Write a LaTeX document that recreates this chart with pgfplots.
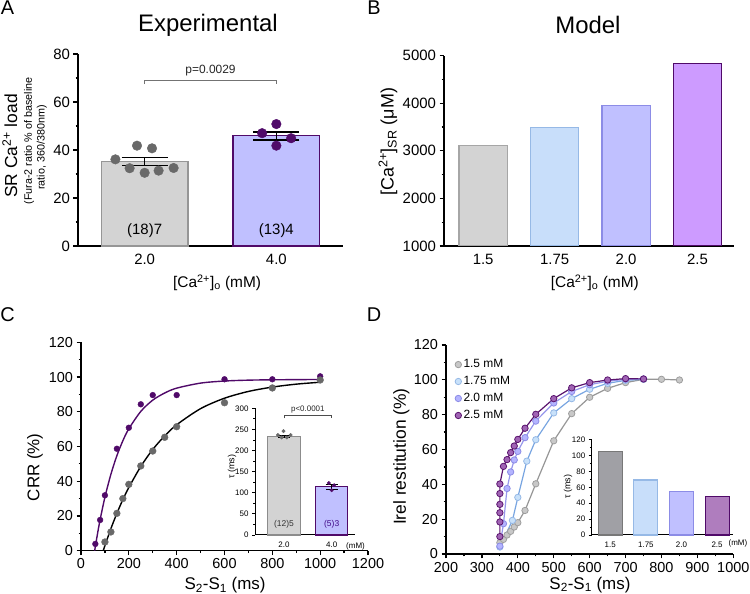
\documentclass[border=0pt]{standalone}
\usepackage{pgfplots}
\pgfplotsset{compat=1.18}
\usepackage{fontspec}
\setmainfont{Liberation Sans}

\definecolor{gfill}{RGB}{211,211,211}
\definecolor{gedge}{RGB}{150,150,150}
\definecolor{gdot}{RGB}{105,105,105}
\definecolor{lavfill}{RGB}{192,192,255}
\definecolor{lavedge}{RGB}{140,140,230}
\definecolor{purp}{RGB}{80,10,105}
\definecolor{bluefill}{RGB}{200,222,250}
\definecolor{blueedge}{RGB}{150,185,230}
\definecolor{violfill}{RGB}{205,155,255}
\definecolor{dgfill}{RGB}{160,160,165}
\definecolor{dgedge}{RGB}{120,120,120}
\definecolor{mauvefill}{RGB}{175,125,190}
% D curves
\definecolor{aline}{RGB}{150,150,150}
\definecolor{afill}{RGB}{200,200,200}
\definecolor{bline}{RGB}{120,165,225}
\definecolor{bfill}{RGB}{200,225,250}
\definecolor{cline}{RGB}{150,150,235}
\definecolor{cfill}{RGB}{180,180,255}
\definecolor{dline}{RGB}{90,20,110}
\definecolor{dfill}{RGB}{160,100,180}

\pgfplotsset{
  panel/.style={
    scale only axis, anchor=south west,
    axis x line*=bottom, axis y line*=left,
    axis line style={-, line width=1.3bp},
    tick align=outside, major tick length=4.5bp, minor tick length=2.5bp,
    tick style={black, line width=1.2bp},
    /pgf/number format/assume math mode=true,
    /pgf/number format/1000 sep={},
  },
  inset/.style={
    panel, clip=false, axis line style={-, line width=1bp},
    major tick length=3bp, minor tick length=1.8bp,
    tick style={black, line width=0.9bp},
    tick label style={font=\fontsize{8}{8}\selectfont},
    label style={font=\fontsize{9}{9}\selectfont},
  },
}

\begin{document}
\begin{tikzpicture}[x=1bp,y=1bp]
\path[use as bounding box] (0,0) rectangle (750,594);

% ---------------- A
\begin{axis}[panel, clip=false, at={(78bp,348bp)}, width=265bp, height=192bp,
  xmin=-0.506, xmax=1.506, ymin=0, ymax=80,
  ytick={0,20,...,80}, minor y tick num=1,
  xtick={0,1}, xticklabels={2.0,4.0}, major x tick style={draw=none},
  tick label style={font=\fontsize{15}{15}\selectfont},
  xlabel={[Ca\textsuperscript{2+}]\textsubscript{o} (mM)},
  xlabel style={at={(axis description cs:0.525,-0.193)}, anchor=center, font=\fontsize{15.5}{15.5}\selectfont},
  ylabel={SR Ca\textsuperscript{2+} load},
  ylabel style={at={(axis description cs:-0.257,0.521)}, anchor=center, font=\fontsize{17.5}{17.5}\selectfont},
]
\addplot[ybar, bar width=0.658, bar shift=0pt, fill=gfill, draw=gedge, line width=1.3bp] coordinates {(0,35.2)};
\addplot[ybar, bar width=0.658, bar shift=0pt, fill=lavfill, draw=purp, line width=1.3bp] coordinates {(1,46.0)};
\addplot[only marks, mark=*, mark size=4.8bp, color=gdot] coordinates {
  (-0.222,36.1) (-0.058,41.8) (0.056,40.7) (-0.114,32.4) (0,30.5) (0.106,31.4) (0.22,32.5)};
\addplot[only marks, mark=*, mark size=4.8bp, color=purp] coordinates {
  (1,50.8) (0.892,47.0) (1.112,44.9) (1,41.8)};
\addplot[draw=none, mark=none, error bars/.cd, y dir=both, y explicit,
  error bar style={draw=black, line width=1.6bp},
  error mark options={rotate=90, mark size=23bp, line width=1.6bp, draw=black}]
  coordinates {(0,35.15) +- (0,1.65) (1,45.85) +- (0,1.65)};
\draw[black!55, line width=1bp] (axis cs:0,67.4) -- (axis cs:0,69) -- (axis cs:1,69) -- (axis cs:1,67.4);
\node[font=\fontsize{12}{12}\selectfont, black!85] at (axis cs:0.5,73.2) {p=0.0029};
\node[font=\fontsize{15}{15}\selectfont] at (axis cs:0,6.2) {(18)7};
\node[font=\fontsize{15}{15}\selectfont] at (axis cs:1,6.2) {(13)4};
\node[rotate=90, font=\fontsize{10.8}{10.8}\selectfont] at (axis description cs:-0.185,0.547) {(Fura-2 ratio \% of baseline};
\node[rotate=90, font=\fontsize{10.8}{10.8}\selectfont] at (axis description cs:-0.136,0.513) {ratio, 360/380nm)};
\end{axis}

% ---------------- B
\begin{axis}[panel, at={(444bp,348bp)}, width=290bp, height=190.3bp,
  xmin=-0.548, xmax=3.51, ymin=1000, ymax=5000,
  ytick={1000,2000,...,5000}, minor y tick num=1,
  xtick={0,1,2,3}, xticklabels={1.5,1.75,2.0,2.5}, major x tick style={draw=none},
  tick label style={font=\fontsize{15}{15}\selectfont},
  xlabel={[Ca\textsuperscript{2+}]\textsubscript{o} (mM)},
  xlabel style={at={(axis description cs:0.52,-0.194)}, anchor=center, font=\fontsize{15.5}{15.5}\selectfont},
  ylabel={[Ca\textsuperscript{2+}]\textsubscript{SR} (μM)},
  ylabel style={at={(axis description cs:-0.193,0.547)}, anchor=center, font=\fontsize{18}{18}\selectfont},
]
\addplot[ybar, bar width=0.677, bar shift=0pt, fill=gfill, draw=black!35, line width=1.3bp] coordinates {(0,3116)};
\addplot[ybar, bar width=0.677, bar shift=0pt, fill=bluefill, draw=blueedge, line width=1.3bp] coordinates {(1,3487)};
\addplot[ybar, bar width=0.677, bar shift=0pt, fill=lavfill, draw=lavedge, line width=1.3bp] coordinates {(2,3956)};
\addplot[ybar, bar width=0.677, bar shift=0pt, fill=violfill, draw=purp, line width=1.3bp] coordinates {(3,4839)};
\end{axis}

% ---------------- C
\begin{axis}[panel, at={(81bp,43.3bp)}, width=287bp, height=208.4bp,
  xmin=0, xmax=1200, ymin=0, ymax=120,
  xtick={0,200,...,1200}, minor x tick num=1,
  ytick={0,20,...,120}, minor y tick num=1,
  tick label style={font=\fontsize{14.5}{14.5}\selectfont},
  xlabel={S\textsubscript{2}-S\textsubscript{1} (ms)},
  xlabel style={at={(axis description cs:0.502,-0.165)}, anchor=center, font=\fontsize{17}{17}\selectfont},
  ylabel={CRR (\%)},
  ylabel style={at={(axis description cs:-0.160,0.40)}, anchor=center, font=\fontsize{17}{17}\selectfont},
]
% fitted curves
\addplot[smooth, color=purp, line width=1.4bp] coordinates {
  (57,0) (70,10.5) (80,17.9) (100,30.8) (125,44.0) (150,54.7) (175,63.3) (200,70.2)
  (250,80.2) (300,86.7) (350,90.8) (400,93.6) (500,96.5) (600,97.7) (700,98.2) (800,98.4) (1000,98.6)};
\addplot[smooth, color=black, line width=1.4bp] coordinates {
  (93,0) (100,2.9) (125,12.7) (150,21.5) (175,29.4) (200,36.4) (250,48.5) (300,58.3)
  (350,66.1) (400,72.5) (500,81.8) (600,87.8) (700,91.7) (800,94.2) (900,95.9) (1000,97.0)};
\addplot[only marks, mark=*, mark size=2.9bp, color=purp] coordinates {
  (60,3.9) (80,17.7) (100,31.9) (150,58.7) (200,70.8) (250,84.3) (300,89.6) (400,89.6)
  (600,98.7) (800,98.7) (1000,100.4)};
\addplot[only marks, mark=*, mark size=3.4bp, color=gdot] coordinates {
  (100,5.0) (125,10.8) (150,21.5) (175,30.0) (200,38.2) (250,48.8) (300,57.4) (350,65.3)
  (400,71.4) (600,85.2) (800,93.7) (1000,98.3)};
\end{axis}

% ---------------- C inset
\begin{axis}[inset, at={(255bp,59bp)}, width=100bp, height=126.7bp,
  xmin=-0.608, xmax=1.489, ymin=0, ymax=300,
  ytick={0,50,...,300}, minor y tick num=1,
  xtick={0,1}, xticklabels={2.0,4.0}, major x tick style={draw=none},
  ylabel={τ (ms)},
  ylabel style={at={(axis description cs:-0.23,0.537)}, anchor=center},
]
\addplot[ybar, bar width=0.68, bar shift=0pt, fill=gfill, draw=black!45, line width=1.1bp] coordinates {(0,234)};
\addplot[ybar, bar width=0.68, bar shift=0pt, fill=lavfill, draw=purp, line width=1.1bp] coordinates {(1,114)};
\addplot[only marks, mark=*, mark size=1.7bp, color=gdot] coordinates {
  (-0.13,236.8) (-0.05,231) (-0.01,246) (0.06,231) (0.14,236.8)};
\addplot[only marks, mark=*, mark size=1.7bp, color=purp] coordinates {
  (0.94,123) (1.05,118) (1,106)};
\addplot[draw=none, mark=none, error bars/.cd, y dir=both, y explicit,
  error bar style={draw=black, line width=0.8bp},
  error mark options={rotate=90, mark size=6bp, line width=0.8bp, draw=black}]
  coordinates {(0,234) +- (0,3) (1,114) +- (0,6)};
\draw[black!70, line width=0.7bp] (axis cs:0,276) -- (axis cs:0,284) -- (axis cs:1,284) -- (axis cs:1,276);
\node[font=\fontsize{8}{8}\selectfont, black!85] at (axis cs:0.5,298) {p<0.0001};
\node[font=\fontsize{8.5}{8.5}\selectfont, black!80] at (axis cs:0,26) {(12)5};
\node[font=\fontsize{8.5}{8.5}\selectfont, purp!80!blue] at (axis cs:1,26) {(5)3};
\node[font=\fontsize{8}{8}\selectfont] at (axis description cs:1.005,-0.087) {(mM)};
\end{axis}

% ---------------- D
\begin{axis}[panel, at={(446bp,40bp)}, width=287.3bp, height=209bp,
  xmin=200, xmax=1000, ymin=0, ymax=120,
  xtick={200,300,...,1000}, minor x tick num=1,
  ytick={0,20,...,120}, minor y tick num=1,
  tick label style={font=\fontsize{14.5}{14.5}\selectfont},
  xlabel={S\textsubscript{2}-S\textsubscript{1} (ms)},
  xlabel style={at={(axis description cs:0.501,-0.148)}, anchor=center, font=\fontsize{17}{17}\selectfont},
  ylabel={Irel restitution (\%)},
  ylabel style={at={(axis description cs:-0.155,0.466)}, anchor=center, font=\fontsize{17.5}{17.5}\selectfont},
  legend style={at={(axis description cs:0.031,0.94)}, anchor=north west, draw=none, fill=none,
    font=\fontsize{12}{12}\selectfont, row sep=3.2bp, inner sep=0pt},
  legend cell align=left,
  legend image code/.code={\draw[#1, only marks] plot coordinates {(0.12cm,0cm)};},
]
\addplot[color=aline, line width=1.2bp, mark=*, mark size=3.2bp,
  mark options={fill=afill, draw=black!38, line width=0.8bp}] coordinates {
  (350,6.5) (360,8.4) (370,10.9) (380,13.0) (390,15.5) (400,18.0) (420,25.0) (450,40.3)
  (500,65.0) (550,80.6) (600,90.0) (650,95.1) (700,98.4) (750,100.3) (800,100.3) (850,99.9)};
\addlegendentry{1.5 mM}
\addplot[color=bline, line width=1.2bp, mark=*, mark size=3.2bp,
  mark options={fill=bfill, draw=blueedge, line width=0.8bp}] coordinates {
  (350,4.0) (385,19.3) (400,32.5) (425,53.3) (450,65.6) (500,81.0) (550,89.2) (600,94.6)
  (650,98.0) (700,99.7) (750,100.3)};
\addlegendentry{1.75 mM}
\addplot[color=cline, line width=1.2bp, mark=*, mark size=3.2bp,
  mark options={fill=cfill, draw=lavedge, line width=0.8bp}] coordinates {
  (350,4.5) (360,17.4) (370,37.6) (380,47.1) (390,54.0) (400,58.9) (420,66.8) (450,76.3)
  (500,86.7) (550,93.3) (600,97.2) (650,99.2) (700,100.3) (750,100.5)};
\addlegendentry{2.0 mM}
\addplot[color=dline, line width=1.2bp, mark=*, mark size=3.2bp,
  mark options={fill=dfill, draw=dline, line width=0.8bp}] coordinates {
  (350,10.0) (350,18.4) (350,23.7) (350,28.5) (350,34.7) (350,40.2) (360,50.3) (370,54.2)
  (380,58.2) (390,62.0) (400,65.8) (420,72.2) (450,80.2) (500,89.2) (550,95.4) (600,98.4)
  (650,99.9) (700,100.7) (750,100.5)};
\addlegendentry{2.5 mM}
\end{axis}

% ---------------- D inset
\begin{axis}[inset, at={(591.7bp,59bp)}, width=141.6bp, height=95.3bp,
  xmin=-0.52, xmax=3.455, ymin=0, ymax=120,
  ytick={0,20,...,120}, minor y tick num=1,
  xtick={0,1,2,3}, xticklabels={1.5,1.75,2.0,2.5}, major x tick style={draw=none},
  ylabel={τ (ms)},
  ylabel style={at={(axis description cs:-0.167,0.504)}, anchor=center},
]
\addplot[ybar, bar width=0.674, bar shift=0pt, fill=dgfill, draw=dgedge, line width=1.2bp] coordinates {(0,104.9)};
\addplot[ybar, bar width=0.674, bar shift=0pt, fill=bluefill, draw=blueedge, line width=1.2bp] coordinates {(1,69.2)};
\addplot[ybar, bar width=0.674, bar shift=0pt, fill=lavfill, draw=lavedge, line width=1.2bp] coordinates {(2,54.5)};
\addplot[ybar, bar width=0.674, bar shift=0pt, fill=mauvefill, draw=purp, line width=1.2bp] coordinates {(3,48.3)};
\node[font=\fontsize{8}{8}\selectfont] at (axis description cs:1.033,-0.084) {(mM)};
\end{axis}

% titles and panel letters
\node[font=\fontsize{24}{24}\selectfont] at (208,569) {Experimental};
\node[font=\fontsize{24}{24}\selectfont] at (588,569) {Model};
\node[font=\fontsize{20}{20}\selectfont] at (7.5,586) {A};
\node[font=\fontsize{20}{20}\selectfont] at (374,586) {B};
\node[font=\fontsize{20}{20}\selectfont] at (7.5,279.5) {C};
\node[font=\fontsize{20}{20}\selectfont] at (374,279.5) {D};
\end{tikzpicture}
\end{document}
